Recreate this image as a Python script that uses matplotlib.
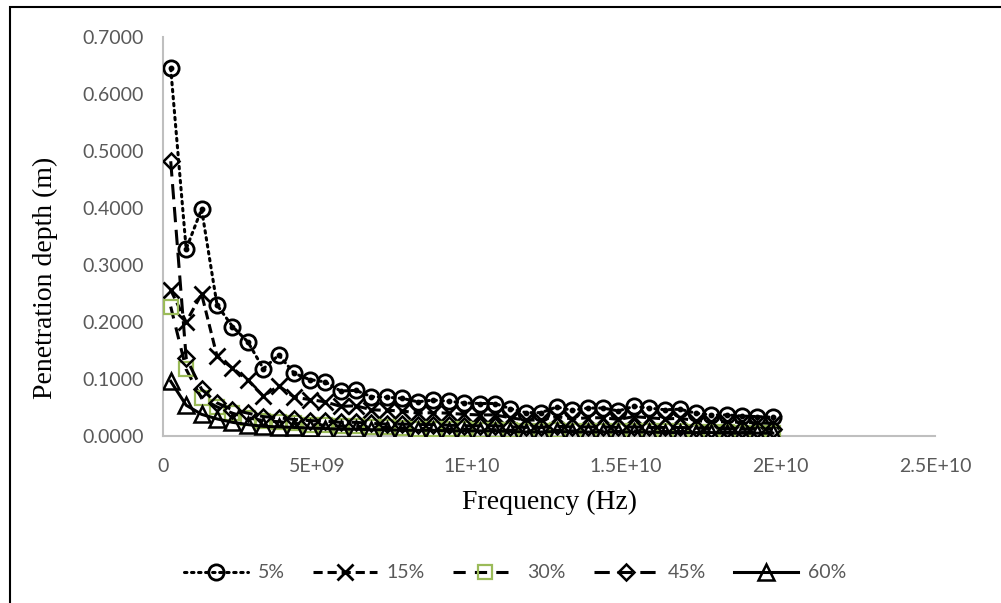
import numpy as np
import matplotlib

matplotlib.use("Agg")

import matplotlib.pyplot as plt
from matplotlib.patches import Rectangle

# sweep 0.25 GHz .. 19.75 GHz, 0.5 GHz steps (40 points)
freq = np.arange(0.25e9, 20.0e9, 0.5e9)

depth_5 = [0.645, 0.328, 0.398, 0.230, 0.192, 0.165, 0.118, 0.142, 0.110, 0.099,
           0.095, 0.079, 0.080, 0.069, 0.068, 0.066, 0.060, 0.063, 0.061, 0.058,
           0.057, 0.057, 0.048, 0.041, 0.041, 0.051, 0.045, 0.049, 0.049, 0.044,
           0.052, 0.049, 0.046, 0.047, 0.040, 0.037, 0.037, 0.035, 0.034, 0.033]
depth_15 = [0.256, 0.200, 0.249, 0.140, 0.119, 0.098, 0.070, 0.088, 0.068, 0.064,
            0.060, 0.052, 0.053, 0.046, 0.045, 0.044, 0.040, 0.041, 0.040, 0.038,
            0.037, 0.037, 0.032, 0.028, 0.028, 0.034, 0.030, 0.032, 0.032, 0.029,
            0.034, 0.032, 0.030, 0.031, 0.027, 0.025, 0.025, 0.024, 0.023, 0.022]
depth_30 = [0.227, 0.117, 0.066, 0.051, 0.040, 0.032, 0.027, 0.025, 0.022, 0.020,
            0.019, 0.017, 0.017, 0.015, 0.015, 0.014, 0.013, 0.013, 0.012, 0.012,
            0.011, 0.011, 0.010, 0.009, 0.009, 0.010, 0.009, 0.009, 0.009, 0.008,
            0.009, 0.008, 0.008, 0.008, 0.007, 0.007, 0.007, 0.006, 0.006, 0.006]
depth_45 = [0.482, 0.137, 0.082, 0.058, 0.046, 0.040, 0.034, 0.032, 0.029, 0.027,
            0.026, 0.024, 0.024, 0.022, 0.021, 0.021, 0.020, 0.020, 0.019, 0.018,
            0.018, 0.018, 0.016, 0.015, 0.015, 0.017, 0.016, 0.016, 0.016, 0.015,
            0.016, 0.015, 0.015, 0.015, 0.014, 0.013, 0.013, 0.012, 0.012, 0.012]
depth_60 = [0.096, 0.054, 0.038, 0.030, 0.024, 0.020, 0.017, 0.016, 0.015, 0.014,
            0.013, 0.012, 0.012, 0.011, 0.011, 0.010, 0.010, 0.010, 0.009, 0.009,
            0.009, 0.009, 0.008, 0.007, 0.007, 0.008, 0.007, 0.007, 0.007, 0.007,
            0.007, 0.007, 0.006, 0.006, 0.006, 0.006, 0.005, 0.005, 0.005, 0.005]

labels = ["5%", "15%", "30%", "45%", "60%"]
x_ticks = [0, 5e9, 1e10, 1.5e10, 2e10, 2.5e10]
x_tick_labels = ["0", "5E+09", "1E+10", "1.5E+10", "2E+10", "2.5E+10"]
y_ticks = [0.0, 0.1, 0.2, 0.3, 0.4, 0.5, 0.6, 0.7]

GRAY = "#595959"
GREEN = "#9BBB59"
LW = 2.2

fig = plt.figure(figsize=(10.01, 6.03), dpi=100)
ax = fig.add_axes([163 / 1001, 1 - 436 / 603, (935 - 163) / 1001, (436 - 37) / 603])

ax.plot(freq, depth_5, color="black", lw=LW, linestyle=(0, (0.8, 1.5)),
        dash_capstyle="round", marker="o", ms=11, mfc="none", mec="black", mew=2.0,
        label=labels[0], zorder=3)
ax.plot(freq, depth_5, linestyle="none", marker="o", ms=3.2, color="black", zorder=3)
ax.plot(freq, depth_15, color="black", lw=LW, linestyle=(0, (3, 1.6)),
        marker="x", ms=11, mec="black", mew=2.0, label=labels[1], zorder=4)
ax.plot(freq, depth_30, color="black", lw=LW, linestyle=(0, (4, 3)),
        marker="s", ms=10, mfc="none", mec=GREEN, mew=1.6, label=labels[2], zorder=5)
ax.plot(freq, depth_45, color="black", lw=LW, linestyle=(0, (5, 2.5)),
        marker="D", ms=8, mfc="none", mec="black", mew=1.8, label=labels[3], zorder=6)
ax.plot(freq, depth_60, color="black", lw=LW, linestyle="-",
        marker="^", ms=11, mfc="none", mec="black", mew=1.8, label=labels[4], zorder=7)

ax.set_xlim(0, 2.5e10)
ax.set_ylim(0, 0.7)
ax.set_xticks(x_ticks)
ax.set_xticklabels(x_tick_labels)
ax.set_yticks(y_ticks)
ax.set_yticklabels([f"{v:.4f}" for v in y_ticks])
ax.tick_params(length=0, labelsize=14, labelcolor=GRAY)
ax.tick_params(axis="y", pad=14)
ax.tick_params(axis="x", pad=16)
for lab in ax.get_xticklabels() + ax.get_yticklabels():
    lab.set_family("Lato")

for side in ("top", "right"):
    ax.spines[side].set_visible(False)
for side in ("left", "bottom"):
    ax.spines[side].set_color("#BFBFBF")
    ax.spines[side].set_linewidth(1.5)

ax.set_xlabel("Frequency (Hz)", family="Liberation Serif", fontsize=20)
ax.set_ylabel("Penetration depth (m)", family="Liberation Serif", fontsize=20)
ax.xaxis.set_label_coords(0.5, -(502 - 436) / 399, transform=ax.transAxes)
ax.xaxis.label.set_va("center")
ax.yaxis.set_label_coords((45 - 163) / 772, (436 - 278) / 399, transform=ax.transAxes)
ax.yaxis.label.set_va("center")

leg = fig.legend(loc="center", bbox_to_anchor=(515 / 1001, 1 - 573 / 603), ncol=5,
                 frameon=False, handlelength=3.3, handletextpad=0.5,
                 columnspacing=1.45, prop={"family": "Lato", "size": 14})
for text in leg.get_texts():
    text.set_color(GRAY)

# chart frame
fig.patches.append(Rectangle((10 / 1001, -0.1), 1.2, 1 - 7 / 603 + 0.1,
                             transform=fig.transFigure, fill=False,
                             edgecolor="black", linewidth=1.5))

fig.savefig("out.png", dpi=100)
